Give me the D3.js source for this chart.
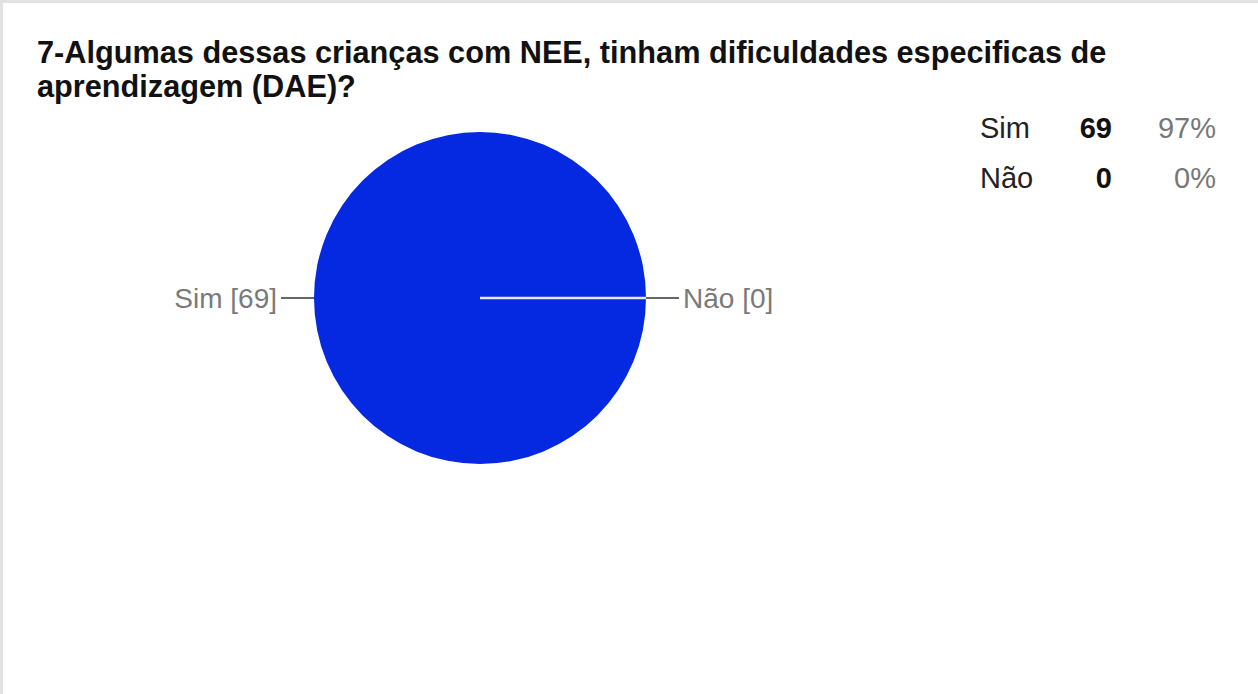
<!DOCTYPE html>
<html>
<head>
<meta charset="utf-8">
<script src="https://cdn.jsdelivr.net/npm/d3@7"></script>
<style>
  html, body { margin: 0; padding: 0; background: #fff; }
  svg { display: block; }
  text { font-family: "Liberation Sans", Arial, Helvetica, sans-serif; }
</style>
</head>
<body>
<svg id="chart" width="1258" height="694"></svg>
<script>
// Survey answers
const categories = ["Sim", "Não"];
const counts = [69, 0];
const percents = ["97%", "0%"];
const titleLines = [
  "7-Algumas dessas crianças com NEE, tinham dificuldades especificas de",
  "aprendizagem (DAE)?"
];
const sliceColors = ["#0529e0", "#dc3912"];

const W = 1258, H = 694;
const svg = d3.select("#chart");

// panel frame (top and left edges)
svg.append("rect").attr("x", 0).attr("y", 0).attr("width", W).attr("height", H).attr("fill", "#fff");
svg.append("rect").attr("x", 0).attr("y", 0).attr("width", W).attr("height", 3).attr("fill", "#e2e2e2");
svg.append("rect").attr("x", 0).attr("y", 0).attr("width", 3).attr("height", H).attr("fill", "#e2e2e2");

// title
svg.append("g").selectAll("text").data(titleLines).join("text")
  .attr("x", 37)
  .attr("y", (d, i) => 63 + i * 34)
  .attr("font-size", 30.7)
  .attr("font-weight", "bold")
  .attr("fill", "#111")
  .text(d => d);

// pie
const cx = 480, cy = 298, r = 166;
const data = categories.map((c, i) => ({ cat: c, value: counts[i], pct: percents[i], i }));
const pie = d3.pie().value(d => d.value).sort(null)
  .startAngle(Math.PI / 2).endAngle(Math.PI / 2 + 2 * Math.PI);
const arcs = pie(data);
const arc = d3.arc().innerRadius(0).outerRadius(r);

const g = svg.append("g").attr("transform", `translate(${cx},${cy})`);
g.selectAll("path").data(arcs.filter(a => a.data.value > 0)).join("path")
  .attr("d", arc)
  .attr("fill", d => sliceColors[d.data.i]);

// zero-width slice boundary
arcs.filter(a => a.data.value === 0).forEach(a => {
  const ang = a.startAngle - Math.PI / 2;
  g.append("line")
    .attr("x1", 0).attr("y1", 0)
    .attr("x2", r * Math.cos(ang)).attr("y2", r * Math.sin(ang))
    .attr("stroke", "#e8e8f0").attr("stroke-width", 2.5);
});

// slice labels with leader lines
const labelSide = { "Sim": -1, "Não": 1 };
data.forEach(d => {
  const s = labelSide[d.cat];
  const x0 = s * r, x1 = s * (r + 33);
  g.append("line")
    .attr("x1", x0).attr("y1", 0).attr("x2", x1).attr("y2", 0)
    .attr("stroke", "#666").attr("stroke-width", 2);
  g.append("text")
    .attr("x", x1 + s * 4).attr("y", 10)
    .attr("text-anchor", s < 0 ? "end" : "start")
    .attr("font-size", 28)
    .attr("fill", "#7a7a7a")
    .text(`${d.cat} [${d.value}]`);
});

// summary table
const rows = svg.append("g").selectAll("g").data(data).join("g")
  .attr("transform", (d, i) => `translate(0,${138 + i * 50})`);
rows.append("text").attr("x", 980).attr("font-size", 29).attr("fill", "#222").text(d => d.cat);
rows.append("text").attr("x", 1112).attr("text-anchor", "end").attr("font-size", 29)
  .attr("font-weight", "bold").attr("fill", "#111").text(d => d.value);
rows.append("text").attr("x", 1216).attr("text-anchor", "end").attr("font-size", 29)
  .attr("fill", "#777").text(d => d.pct);
</script>
</body>
</html>
